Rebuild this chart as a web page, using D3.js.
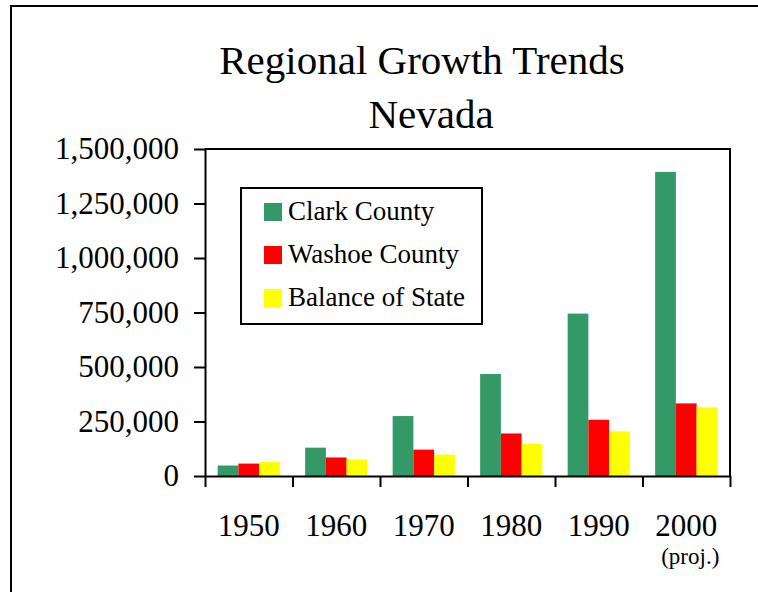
<!DOCTYPE html>
<html>
<head>
<meta charset="utf-8">
<script src="https://cdn.jsdelivr.net/npm/d3@7"></script>
<style>
  body { margin: 0; background: #fff; }
  svg text { font-family: "Liberation Serif", "Times New Roman", serif; fill: #000; }
  .axis path, .axis line { stroke: #000; stroke-width: 2; }
</style>
</head>
<body>
<div id="chart"></div>
<script>
var years = ["1950", "1960", "1970", "1980", "1990", "2000"]
var series = ["Clark County", "Washoe County", "Balance of State"]
var clark = [48000, 130000, 275000, 468000, 745000, 1395000]
var washoe = [57000, 85000, 121000, 195000, 258000, 333000]
var balance = [64000, 76000, 98000, 147000, 205000, 315000]
var yTicks = [0, 250000, 500000, 750000, 1000000, 1250000, 1500000]
var colors = ["#339966", "#ff0000", "#ffff00"]

var width = 758, height = 592
var plot = { left: 205, right: 730, top: 149, bottom: 476 }

var svg = d3.select("#chart")
  .append("svg")
  .attr("width", width)
  .attr("height", height)

// outer frame, only top and left edges show
svg.append("path")
  .attr("d", "M11,592V6H758")
  .attr("fill", "none")
  .attr("stroke", "#000")
  .attr("stroke-width", 2)

// title
svg.append("text")
  .attr("x", 422).attr("y", 74)
  .attr("text-anchor", "middle")
  .style("font-size", "41px")
  .text("Regional Growth Trends")
svg.append("text")
  .attr("x", 431).attr("y", 128)
  .attr("text-anchor", "middle")
  .style("font-size", "41px")
  .text("Nevada")

var x0 = d3.scaleBand().domain(years).range([plot.left, plot.right])
var x1 = d3.scaleBand().domain(series).range([0, x0.bandwidth()]).paddingOuter(0.61)
var y = d3.scaleLinear().domain([0, 1500000]).range([plot.bottom, plot.top])

var rows = years.map(function(yr, i) {
  return { year: yr, values: [clark[i], washoe[i], balance[i]] }
})

// bars
var groups = svg.selectAll(".group")
  .data(rows)
  .enter().append("g")
  .attr("class", "group")
  .attr("transform", function(d) { return "translate(" + x0(d.year) + ",0)" })

groups.selectAll("rect")
  .data(function(d) { return d.values.map(function(v, j) { return { key: series[j], value: v, j: j } }) })
  .enter().append("rect")
  .attr("x", function(d) { return x1(d.key) })
  .attr("width", x1.bandwidth())
  .attr("y", function(d) { return y(d.value) })
  .attr("height", function(d) { return y(0) - y(d.value) })
  .attr("fill", function(d) { return colors[d.j] })

// plot frame top + right
svg.append("path")
  .attr("d", "M" + plot.left + "," + plot.top + "H" + plot.right + "V" + plot.bottom)
  .attr("fill", "none")
  .attr("stroke", "#000")
  .attr("stroke-width", 2)

// y axis
var yAxis = d3.axisLeft(y)
  .tickValues(yTicks)
  .tickFormat(d3.format(","))
  .tickSize(11)
  .tickSizeOuter(0)
  .tickPadding(15)
svg.append("g")
  .attr("class", "axis y-axis")
  .attr("transform", "translate(" + plot.left + ",0)")
  .call(yAxis)
  .selectAll("text")
  .style("font-size", "31px")

// x axis: ticks at category boundaries
var xEdge = d3.scaleLinear().domain([0, years.length]).range([plot.left, plot.right])
var xAxis = d3.axisBottom(xEdge)
  .tickValues(d3.range(years.length + 1))
  .tickFormat("")
  .tickSize(11)
  .tickSizeOuter(0)
svg.append("g")
  .attr("class", "axis x-axis")
  .attr("transform", "translate(0," + plot.bottom + ")")
  .call(xAxis)

// year labels
var labels = svg.append("g")
  .attr("class", "x-labels")
labels.selectAll("text")
  .data(years)
  .enter().append("text")
  .attr("x", function(d) { return x0(d) + x0.bandwidth() / 2 })
  .attr("y", 536)
  .attr("text-anchor", "middle")
  .style("font-size", "31px")
  .text(function(d) { return d })

labels.append("text")
  .attr("x", x0("2000") + x0.bandwidth() / 2 + 4)
  .attr("y", 564)
  .attr("text-anchor", "middle")
  .style("font-size", "23px")
  .text("(proj.)")

// legend
var legend = svg.append("g").attr("class", "legend")
legend.append("rect")
  .attr("x", 241).attr("y", 188)
  .attr("width", 241).attr("height", 136)
  .attr("fill", "#fff")
  .attr("stroke", "#000")
  .attr("stroke-width", 2)

var items = legend.selectAll(".item")
  .data(series)
  .enter().append("g")
  .attr("class", "item")
  .attr("transform", function(d, i) { return "translate(264," + (203 + i * 43) + ")" })
items.append("rect")
  .attr("width", 18).attr("height", 18)
  .attr("fill", function(d, i) { return colors[i] })
items.append("text")
  .attr("x", 24).attr("y", 17)
  .style("font-size", "27px")
  .text(function(d) { return d })
</script>
</body>
</html>
